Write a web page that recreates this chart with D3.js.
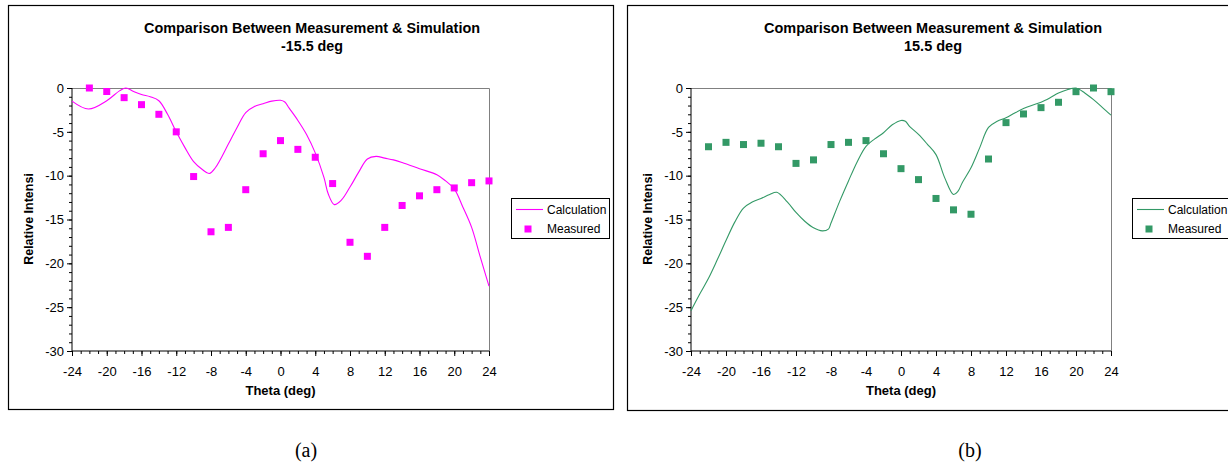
<!DOCTYPE html>
<html>
<head>
<meta charset="utf-8">
<script src="https://cdn.jsdelivr.net/npm/d3@7"></script>
<style>
  html, body { margin: 0; padding: 0; background: #fff; }
  svg { display: block; font-family: "Liberation Sans", Arial, sans-serif; }
</style>
</head>
<body>
<svg id="chart" width="1228" height="464"></svg>
<script>
// ---------- DATA ----------
const xTickLabels = [-24, -20, -16, -12, -8, -4, 0, 4, 8, 12, 16, 20, 24];
const yTickLabels = [0, -5, -10, -15, -20, -25, -30];
const seriesNames = ["Calculation", "Measured"];
const titlesA = ["Comparison Between Measurement & Simulation", "-15.5 deg"];
const titlesB = ["Comparison Between Measurement & Simulation", "15.5 deg"];
const xAxisTitle = "Theta (deg)";
const yAxisTitle = "Relative Intensi";
const captions = ["(a)", "(b)"];

const measuredTheta = [-22, -20, -18, -16, -14, -12, -10, -8, -6, -4, -2, 0, 2, 4, 6, 8, 10, 12, 14, 16, 18, 20, 22, 24];
const measuredA = [0.0, -0.4, -1.1, -1.9, -3.0, -5.0, -10.1, -16.4, -15.9, -11.6, -7.5, -6.0, -7.0, -7.9, -10.9, -17.6, -19.2, -15.9, -13.4, -12.3, -11.6, -11.4, -10.8, -10.6];
const measuredB = [-6.7, -6.2, -6.45, -6.3, -6.7, -8.6, -8.2, -6.45, -6.2, -6.0, -7.5, -9.2, -10.45, -12.6, -13.9, -14.4, -8.1, -3.95, -2.96, -2.24, -1.63, -0.42, 0.0, -0.42];

const calcThetaA = [-24, -22.1, -20, -18.5, -17.8, -16.9, -16, -15, -14, -13, -12, -11, -10, -9, -8.2, -7.5, -6, -5, -4, -3, -2, -1, 0, 0.5, 1, 2, 3, 4, 5, 5.5, 6.2, 7, 8, 9, 10, 11, 12, 13, 14, 16, 18, 19, 20, 21, 22, 23, 24];
const calcA = [-1.5, -2.4, -1.45, -0.3, 0.0, -0.4, -0.75, -1.0, -1.45, -3.0, -5.0, -6.8, -8.4, -9.3, -9.75, -9.1, -6.4, -4.5, -2.8, -2.1, -1.8, -1.5, -1.4, -1.6, -2.3, -3.7, -5.3, -7.4, -10.2, -12.1, -13.3, -12.8, -11.3, -9.6, -8.1, -7.8, -8.0, -8.2, -8.5, -9.2, -9.9, -10.6, -11.5, -13.6, -15.9, -19.3, -22.6];

const calcThetaB = [-24, -23, -22, -21, -20, -19, -18, -17, -16, -15, -14.2, -13, -12, -11, -10, -9, -8.3, -8, -7, -6, -5, -4, -3, -2, -1, 0, 0.5, 1, 2, 3, 4, 5, 6, 6.5, 7, 8, 9, 10, 11, 12, 13, 14, 15, 16, 17, 18, 19, 20, 21, 22, 23, 24];
const calcB = [-25.4, -23.5, -21.7, -19.6, -17.4, -15.3, -13.7, -13.0, -12.6, -12.15, -11.9, -13.0, -14.2, -15.2, -15.95, -16.3, -16.1, -15.4, -12.9, -10.6, -8.4, -6.65, -5.8, -5.1, -4.2, -3.7, -3.8, -4.4, -5.3, -6.4, -7.6, -10.25, -12.15, -11.8, -10.8, -9.1, -6.8, -4.5, -3.8, -3.4, -2.85, -2.35, -1.97, -1.63, -1.14, -0.57, -0.19, 0.0, -0.57, -1.33, -2.2, -3.1];

// ---------- DRAWING ----------
const svg = d3.select("#chart");
const FONT = '"Liberation Sans", Arial, sans-serif';
const fmt = d => String(d);

function drawChart(cfg) {
  const g = svg.append("g");
  g.append("rect")
    .attr("x", cfg.frame[0] + 0.5).attr("y", cfg.frame[1] + 0.5)
    .attr("width", cfg.frame[2] - cfg.frame[0]).attr("height", cfg.frame[3] - cfg.frame[1])
    .attr("fill", "#fff").attr("stroke", "#000").attr("stroke-width", 1.2);

  const x = d3.scaleLinear().domain([-24, 24]).range([cfg.plot[0], cfg.plot[1]]);
  const y = d3.scaleLinear().domain([0, -30]).range([cfg.plot[2], cfg.plot[3]]);

  g.append("path")
    .attr("d", `M${x(-24)},${y(0) + 0.5}H${x(24) + 0.5}V${y(-30)}`)
    .attr("fill", "none").attr("stroke", "#808080").attr("stroke-width", 1);

  cfg.titles.forEach((t, i) => {
    g.append("text")
      .attr("x", cfg.titleX).attr("y", 33 + i * 17.5)
      .attr("text-anchor", "middle")
      .attr("font-family", FONT).attr("font-weight", "bold").attr("font-size", 14)
      .attr("fill", "#000").text(t)
      .attr("textLength", i === 0 ? cfg.titleW : cfg.subW).attr("lengthAdjust", "spacingAndGlyphs");
  });

  const yMinor = d3.range(0, -31, -1);
  const xMinor = d3.range(-24, 25, 1);
  g.append("g").attr("transform", `translate(${x(-24)},0)`)
    .call(d3.axisLeft(y).tickValues(yMinor).tickSize(3).tickFormat(""))
    .call(a => a.select(".domain").remove())
    .selectAll("line").attr("stroke", "#000");
  g.append("g").attr("transform", `translate(0,${y(-30)})`)
    .call(d3.axisBottom(x).tickValues(xMinor).tickSize(3).tickFormat(""))
    .call(a => a.select(".domain").remove())
    .selectAll("line").attr("stroke", "#000");

  const ya = g.append("g").attr("transform", `translate(${x(-24)},0)`)
    .call(d3.axisLeft(y).tickValues(yTickLabels).tickSize(5).tickPadding(3).tickFormat(fmt));
  ya.select(".domain").attr("d", `M0,${y(0)}V${y(-30)}`).attr("stroke", "#000");
  ya.selectAll("line").attr("stroke", "#000");
  ya.selectAll("text").attr("font-family", FONT).attr("font-size", 13).attr("fill", "#000");

  const xa = g.append("g").attr("transform", `translate(0,${y(-30)})`)
    .call(d3.axisBottom(x).tickValues(xTickLabels).tickSize(5).tickFormat(fmt));
  xa.select(".domain").attr("d", `M${x(-24)},0H${x(24)}`).attr("stroke", "#000");
  xa.selectAll("line").attr("stroke", "#000");
  xa.selectAll("text").attr("font-family", FONT).attr("font-size", 13).attr("fill", "#000")
    .attr("y", 16).attr("dy", "0.71em");

  g.append("text")
    .attr("x", (x(-24) + x(24)) / 2).attr("y", 395)
    .attr("text-anchor", "middle").attr("font-family", FONT).attr("font-weight", "bold")
    .attr("font-size", 13).attr("fill", "#000").text(xAxisTitle);
  g.append("text")
    .attr("transform", `translate(${cfg.frame[0] + 25},219) rotate(-90)`)
    .attr("text-anchor", "middle").attr("font-family", FONT).attr("font-weight", "bold")
    .attr("font-size", 12.5).attr("fill", "#000").text(yAxisTitle);

  const line = d3.line().x(d => x(d[0])).y(d => y(d[1])).curve(d3.curveCatmullRom.alpha(0.5));
  g.append("path")
    .datum(cfg.calcTheta.map((t, i) => [t, cfg.calc[i]]))
    .attr("d", line).attr("fill", "none").attr("stroke", cfg.color).attr("stroke-width", 1.1);

  const s = 7;
  g.selectAll("rect.m").data(measuredTheta.map((t, i) => [t, cfg.measured[i]]))
    .join("rect").attr("class", "m")
    .attr("x", d => x(d[0]) - s / 2).attr("y", d => y(d[1]) - s / 2)
    .attr("width", s).attr("height", s).attr("fill", cfg.color);

  const L = cfg.legend;
  g.append("rect").attr("x", L[0] + 0.5).attr("y", L[1] + 0.5).attr("width", 98).attr("height", 40)
    .attr("fill", "#fff").attr("stroke", "#000").attr("stroke-width", 1);
  g.append("line").attr("x1", L[0] + 5).attr("x2", L[0] + 32).attr("y1", L[1] + 11.5).attr("y2", L[1] + 11.5)
    .attr("stroke", cfg.color).attr("stroke-width", 1.1);
  g.append("rect").attr("x", L[0] + 17 - s / 2).attr("y", L[1] + 31 - s / 2).attr("width", s).attr("height", s)
    .attr("fill", cfg.color);
  seriesNames.forEach((n, i) => {
    g.append("text").attr("x", L[0] + 36).attr("y", L[1] + 15.5 + i * 19.5)
      .attr("font-family", FONT).attr("font-size", 12).attr("fill", "#000").text(n);
  });

  g.append("text").attr("x", cfg.capX).attr("y", 457).attr("text-anchor", "middle")
    .attr("font-family", '"Liberation Serif", "Times New Roman", serif').attr("font-size", 20)
    .attr("fill", "#000").text(cfg.caption);
}

drawChart({
  frame: [8, 5, 613, 409], plot: [72, 489, 88, 351],
  titles: titlesA, titleX: 312, titleW: 336, subW: 62,
  calcTheta: calcThetaA, calc: calcA, measured: measuredA,
  color: "#ff00ff", legend: [511, 198], caption: captions[0], capX: 306
});
drawChart({
  frame: [627, 5, 1240, 410], plot: [691, 1111, 88, 351],
  titles: titlesB, titleX: 933, titleW: 338, subW: 58,
  calcTheta: calcThetaB, calc: calcB, measured: measuredB,
  color: "#339966", legend: [1132, 198], caption: captions[1], capX: 970
});
</script>
</body>
</html>
